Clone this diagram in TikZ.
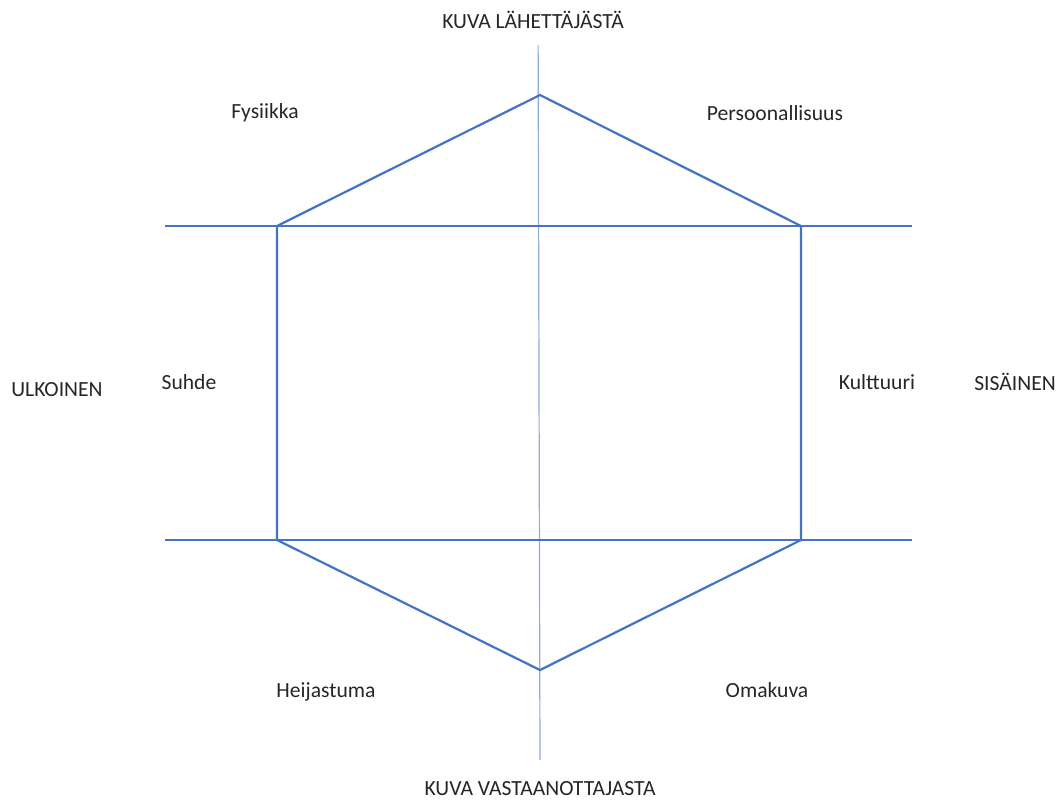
\documentclass[tikz,border=0pt]{standalone}
\usepackage{fontspec}
\setmainfont{Carlito}
\usetikzlibrary{positioning}
\definecolor{hexblue}{RGB}{68,114,196}
\definecolor{axisblue}{RGB}{143,170,220}

\begin{document}
\begin{tikzpicture}[
    x=0.5pt, y=-0.5pt,
    every node/.style={font=\fontsize{10.8}{13}\selectfont, text=black!85},
    axis/.style={draw=axisblue, line width=0.6pt},
    guide/.style={draw=hexblue, line width=0.6pt},
    hexline/.style={draw=hexblue, line width=1.1pt, line join=miter}
]
\useasboundingbox (0,0) rectangle (1059,800);

% --- axes ---
\coordinate (v_top) at (538,0);
\coordinate (v_bot) at (540,760);
\coordinate (h1_l) at (165,226);
\coordinate (h1_r) at (912,226);
\coordinate (h2_l) at (165,540);
\coordinate (h2_r) at (912,540);

\draw[axis] (v_top) -- (v_bot);
\draw[guide] (h1_l) -- (h1_r);
\draw[guide] (h2_l) -- (h2_r);

% --- hexagon ---
\coordinate (p_top) at (540,95);
\coordinate (p_ur) at (801,226);
\coordinate (p_lr) at (801,540);
\coordinate (p_bot) at (540,670);
\coordinate (p_ll) at (277,540);
\coordinate (p_ul) at (277,226);

\draw[hexline] (p_top) -- (p_ur) -- (p_lr) -- (p_bot) -- (p_ll) -- (p_ul) -- cycle;

% --- labels ---
\node[fill=white, inner ysep=8pt] (sender) at (533,20) {KUVA LÄHETTÄJÄSTÄ};
\node (receiver) at (540,789) {KUVA VASTAANOTTAJASTA};
\node (outer) at (57,390) {ULKOINEN};
\node (inner) at (1015,382) {SISÄINEN};

\node (fys) at (265,113) {Fysiikka};
\node (pers) at (775,113) {Persoonallisuus};
\node (suhde) at (189,382) {Suhde};
\node (kult) at (877,382) {Kulttuuri};
\node (heij) at (326,692) {Heijastuma};
\node (oma) at (767,690) {Omakuva};

\end{tikzpicture}
\end{document}
